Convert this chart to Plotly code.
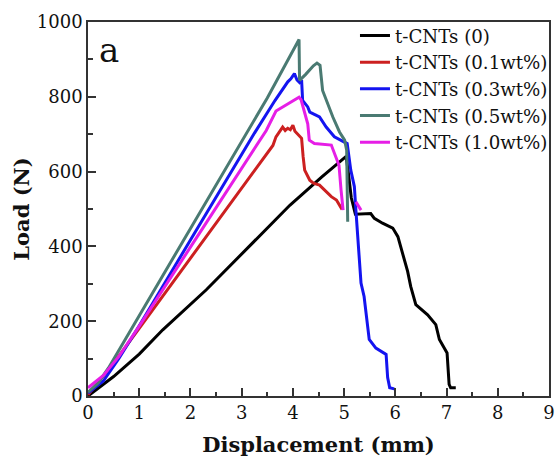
import plotly.graph_objects as go

# Load-displacement curves for t-CNT filled samples
black_x = [0, 0.5, 1.0, 1.46, 2.31, 3.94, 4.56, 5.04, 5.08, 5.14, 5.22, 5.52, 5.59, 5.75, 5.95,
           6.05, 6.14, 6.24, 6.30, 6.40, 6.63, 6.79, 6.86, 6.98, 7.01, 7.05, 7.08, 7.18]
black_y = [0, 52, 112, 177, 284, 510, 585, 641, 600, 530, 486, 488, 475, 462, 449,
           426, 382, 333, 293, 244, 217, 191, 151, 125, 115, 31, 22, 22]

red_x = [0, 0.5, 1.0, 1.7, 2.5, 3.2, 3.61, 3.67, 3.73, 3.80, 3.85, 3.90, 3.95, 4.00, 4.04,
         4.09, 4.14, 4.17, 4.20, 4.23, 4.33, 4.40, 4.52, 4.62, 4.75, 4.85, 4.91, 4.96]
red_y = [3, 88, 181, 312, 462, 592, 670, 693, 705, 719, 710, 716, 712, 724, 708,
         700, 695, 689, 640, 604, 577, 569, 564, 551, 533, 524, 511, 499]

blue_x = [0, 0.3, 0.6, 1.0, 2.0, 3.0, 3.25, 3.65, 3.9, 3.96, 4.03, 4.08, 4.13, 4.17, 4.19,
          4.29, 4.33, 4.52, 4.65, 4.81, 4.97, 5.06, 5.13, 5.20, 5.23, 5.26, 5.33, 5.39,
          5.44, 5.49, 5.62, 5.82, 5.85, 5.89, 5.98]
blue_y = [8, 40, 100, 188, 417, 646, 703, 790, 840, 848, 862, 845, 838, 845, 790,
          773, 759, 746, 719, 693, 680, 675, 604, 560, 497, 435, 302, 266,
          213, 151, 128, 111, 49, 22, 19]

green_x = [0, 0.2, 0.4, 0.7, 1.0, 2.0, 3.0, 3.5, 4.12, 4.13, 4.25, 4.40, 4.47, 4.53,
           4.58, 4.68, 4.78, 4.91, 5.01, 5.05, 5.07]
green_y = [10, 35, 75, 145, 213, 447, 680, 797, 953, 844, 860, 883, 890, 884,
           817, 782, 746, 706, 684, 657, 466]

magenta_x = [0, 0.3, 0.6, 1.0, 2.0, 3.0, 3.48, 3.67, 3.80, 3.92, 4.02, 4.12, 4.16, 4.22,
             4.29, 4.32, 4.42, 4.75, 4.81, 4.90, 4.94, 4.98, None, 5.23, 5.33]
magenta_y = [22, 55, 105, 187, 398, 608, 710, 762, 773, 782, 790, 799, 792, 764,
             728, 684, 675, 671, 649, 617, 551, 497, None, 519, 497]

series = [
    ("t-CNTs (0)", black_x, black_y, "#000000"),
    ("t-CNTs (0.1wt%)", red_x, red_y, "#cc2020"),
    ("t-CNTs (0.3wt%)", blue_x, blue_y, "#1414f0"),
    ("t-CNTs (0.5wt%)", green_x, green_y, "#4a7a72"),
    ("t-CNTs (1.0wt%)", magenta_x, magenta_y, "#e61ee6"),
]

x_ticks = [0, 1, 2, 3, 4, 5, 6, 7, 8, 9]
y_ticks = [0, 200, 400, 600, 800, 1000]

FONT = "DejaVu Serif"

fig = go.Figure()
for name, xs, ys, color in series:
    fig.add_trace(go.Scatter(x=xs, y=ys, mode="lines", name=name,
                             line=dict(color=color, width=3),
                             connectgaps=False))

axis_common = dict(
    showgrid=False, zeroline=False, showline=True, mirror=True,
    linecolor="#333333", linewidth=1.5,
    ticks="inside", ticklen=8, tickwidth=1.5, tickcolor="#333333",
    tickfont=dict(family=FONT, size=18, color="#111111"),
)

fig.update_xaxes(
    range=[0, 9], tickvals=x_ticks,
    minor=dict(ticks="inside", ticklen=4, tickwidth=1.5, tickcolor="#333333", dtick=0.5),
    title=dict(text="<b>Displacement (mm)</b>",
               font=dict(family=FONT, size=21, color="#111111"), standoff=15),
    **axis_common,
)
fig.update_yaxes(
    range=[0, 1000], tickvals=y_ticks,
    minor=dict(ticks="inside", ticklen=5, tickwidth=1.5, tickcolor="#333333", dtick=100),
    title=dict(text="<b>Load (N)</b>",
               font=dict(family=FONT, size=21, color="#111111"), standoff=1),
    **axis_common,
)

fig.add_annotation(
    x=0.02, y=0.985, xref="paper", yref="paper", xanchor="left", yanchor="top",
    text="a", showarrow=False, font=dict(family=FONT, size=34, color="#111111"),
)

fig.update_layout(
    width=555, height=465,
    margin=dict(l=88, r=6, t=22, b=69, autoexpand=False),
    paper_bgcolor="white", plot_bgcolor="white",
    showlegend=True,
    legend=dict(
        xref="container", yref="container",
        x=0.6396, y=0.963, xanchor="left", yanchor="top",
        font=dict(family=FONT, size=18.2, color="#111111"),
        bgcolor="rgba(0,0,0,0)", borderwidth=0,
        tracegroupgap=0,
    ),
)

fig.write_html("out.html")
